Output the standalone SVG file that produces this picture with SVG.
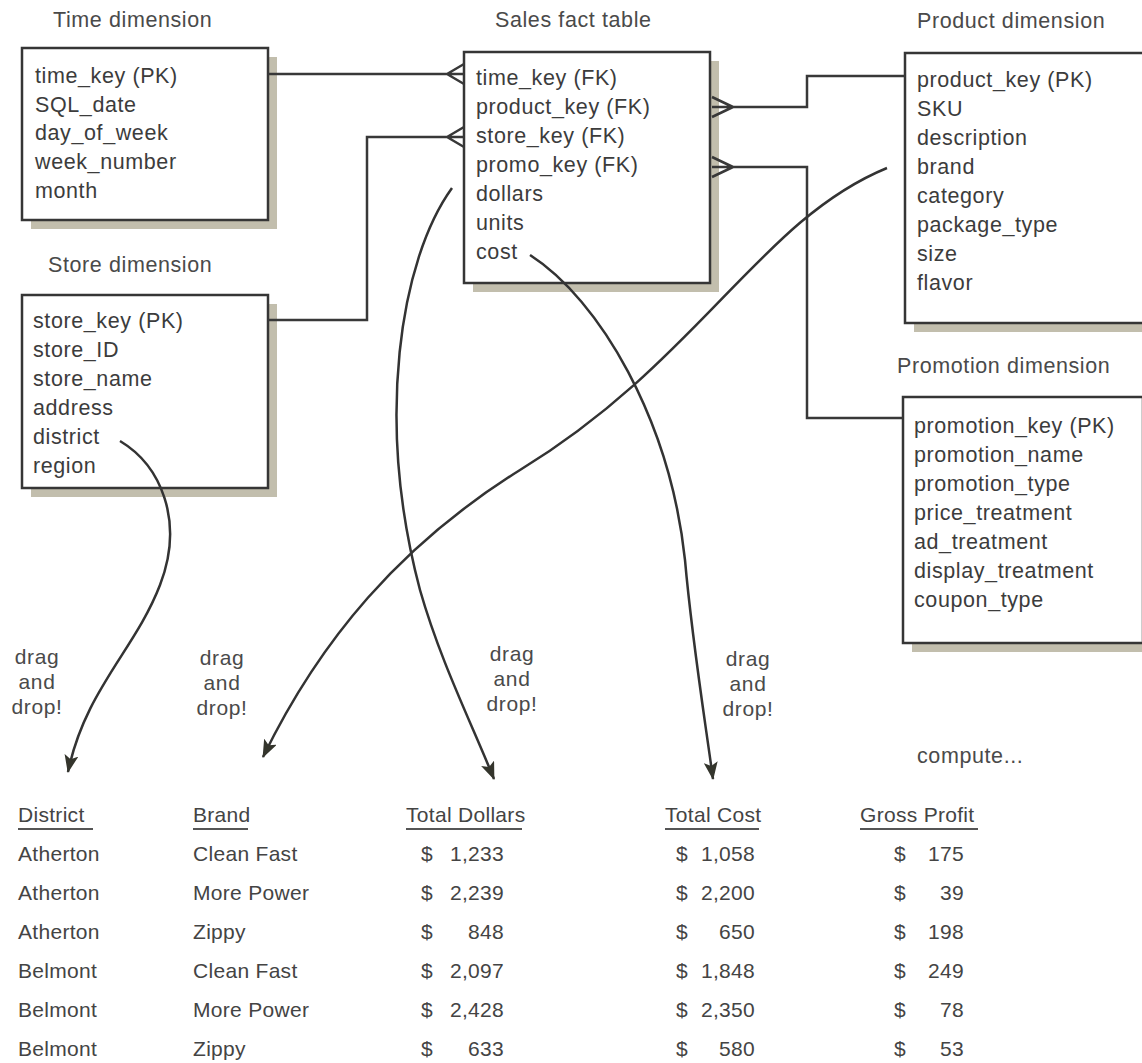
<svg xmlns="http://www.w3.org/2000/svg" width="1142" height="1063" viewBox="0 0 1142 1063">
<defs>
<style>
.bg{fill:#fff}
.box{fill:#fff;stroke:#363636;stroke-width:2.5}
.shadow{fill:#c2bead}
.t{font-family:"Liberation Sans",Arial,sans-serif;font-size:21.5px;fill:#3c3c3c;letter-spacing:0.6px}
.title{font-family:"Liberation Sans",Arial,sans-serif;font-size:21.5px;fill:#4a4a4a;letter-spacing:0.6px}
.lbl{font-family:"Liberation Sans",Arial,sans-serif;font-size:21px;fill:#4a4a4a;letter-spacing:0.6px;text-anchor:middle}
.tab{font-family:"Liberation Sans",Arial,sans-serif;font-size:21px;fill:#444;letter-spacing:0.3px}
.num{text-anchor:end}
.conn{fill:none;stroke:#383838;stroke-width:2.5}
.curve{fill:none;stroke:#333;stroke-width:2.5}
.ul{stroke:#555;stroke-width:1.8}
</style>
<marker id="ah" viewBox="0 0 18 14" refX="17" refY="7" markerWidth="18" markerHeight="14" markerUnits="userSpaceOnUse" orient="auto">
<path d="M0,0 L18,7 L0,14 L4,7 Z" fill="#34352c"/>
</marker>
</defs>
<rect class="bg" x="0" y="0" width="1142" height="1063"/>

<g id="time-dimension">
<text class="title" x="53" y="27">Time dimension</text>
<rect class="shadow" x="31" y="57" width="246" height="172"/>
<rect class="box" x="22" y="48" width="246" height="172"/>
<text class="t" x="35" y="83">time_key (PK)</text>
<text class="t" x="35" y="112">SQL_date</text>
<text class="t" x="35" y="140">day_of_week</text>
<text class="t" x="35" y="169">week_number</text>
<text class="t" x="35" y="198">month</text>
</g>

<g id="store-dimension">
<text class="title" x="48" y="272">Store dimension</text>
<rect class="shadow" x="31" y="304" width="246" height="193"/>
<rect class="box" x="22" y="295" width="246" height="193"/>
<text class="t" x="33" y="328">store_key (PK)</text>
<text class="t" x="33" y="357">store_ID</text>
<text class="t" x="33" y="386">store_name</text>
<text class="t" x="33" y="415">address</text>
<text class="t" x="33" y="444">district</text>
<text class="t" x="33" y="473">region</text>
</g>

<g id="sales-fact-table">
<text class="title" x="495" y="27">Sales fact table</text>
<rect class="shadow" x="473" y="61" width="246" height="231"/>
<rect class="box" x="464" y="52" width="246" height="231"/>
<text class="t" x="476" y="85">time_key (FK)</text>
<text class="t" x="476" y="114">product_key (FK)</text>
<text class="t" x="476" y="143">store_key (FK)</text>
<text class="t" x="476" y="172">promo_key (FK)</text>
<text class="t" x="476" y="201">dollars</text>
<text class="t" x="476" y="230">units</text>
<text class="t" x="476" y="259">cost</text>
</g>

<g id="product-dimension">
<text class="title" x="917" y="28">Product dimension</text>
<rect class="shadow" x="914" y="62" width="240" height="270"/>
<rect class="box" x="905" y="53" width="240" height="270"/>
<text class="t" x="917" y="87">product_key (PK)</text>
<text class="t" x="917" y="116">SKU</text>
<text class="t" x="917" y="145">description</text>
<text class="t" x="917" y="174">brand</text>
<text class="t" x="917" y="203">category</text>
<text class="t" x="917" y="232">package_type</text>
<text class="t" x="917" y="261">size</text>
<text class="t" x="917" y="290">flavor</text>
</g>

<g id="promotion-dimension">
<text class="title" x="897" y="373">Promotion dimension</text>
<rect class="shadow" x="912" y="406" width="240" height="246"/>
<rect class="box" x="903" y="397" width="240" height="246"/>
<text class="t" x="914" y="433">promotion_key (PK)</text>
<text class="t" x="914" y="462">promotion_name</text>
<text class="t" x="914" y="491">promotion_type</text>
<text class="t" x="914" y="520">price_treatment</text>
<text class="t" x="914" y="549">ad_treatment</text>
<text class="t" x="914" y="578">display_treatment</text>
<text class="t" x="914" y="607">coupon_type</text>
</g>

<g id="connectors">
<path class="conn" d="M268,74 H447 M447,74 L464,64 M447,74 L464,74 M447,74 L464,84"/>
<path class="conn" d="M268,320 H367 V137 H447 M447,137 L464,127 M447,137 L464,137 M447,137 L464,147"/>
<path class="conn" d="M905,76 H807 V107 H733 M733,107 L712,97 M733,107 L712,107 M733,107 L712,117"/>
<path class="conn" d="M903,418 H807 V167 H733 M733,167 L712,157 M733,167 L712,167 M733,167 L712,177"/>
<path class="curve" marker-end="url(#ah)" d="M120,441 C160,465 185,520 160,585 C135,650 85,690 68,772"/>
<path class="curve" marker-end="url(#ah)" d="M887,168 C760,220 700,360 520,470 C400,545 320,640 263,757"/>
<path class="curve" marker-end="url(#ah)" d="M452,188 C400,260 375,420 420,590 C440,660 470,720 494,779"/>
<path class="curve" marker-end="url(#ah)" d="M530,255 C600,300 670,420 685,560 C692,640 705,720 713,779"/>
</g>

<g id="drag-labels">
<text class="lbl" x="37" y="664">drag</text>
<text class="lbl" x="37" y="689">and</text>
<text class="lbl" x="37" y="714">drop!</text>
<text class="lbl" x="222" y="665">drag</text>
<text class="lbl" x="222" y="690">and</text>
<text class="lbl" x="222" y="715">drop!</text>
<text class="lbl" x="512" y="661">drag</text>
<text class="lbl" x="512" y="686">and</text>
<text class="lbl" x="512" y="711">drop!</text>
<text class="lbl" x="748" y="666">drag</text>
<text class="lbl" x="748" y="691">and</text>
<text class="lbl" x="748" y="716">drop!</text>
<text class="title" x="917" y="763">compute...</text>
</g>

<g id="result-table">
<text class="tab" x="18" y="822">District</text>
<line class="ul" x1="18" y1="829" x2="93" y2="829"/>
<text class="tab" x="193" y="822">Brand</text>
<line class="ul" x1="193" y1="829" x2="248" y2="829"/>
<text class="tab" x="406" y="822">Total Dollars</text>
<line class="ul" x1="406" y1="829" x2="522" y2="829"/>
<text class="tab" x="665" y="822">Total Cost</text>
<line class="ul" x1="665" y1="829" x2="759" y2="829"/>
<text class="tab" x="860" y="822">Gross Profit</text>
<line class="ul" x1="860" y1="829" x2="978" y2="829"/>

<text class="tab" x="18" y="861">Atherton</text>
<text class="tab" x="18" y="900">Atherton</text>
<text class="tab" x="18" y="939">Atherton</text>
<text class="tab" x="18" y="978">Belmont</text>
<text class="tab" x="18" y="1017">Belmont</text>
<text class="tab" x="18" y="1056">Belmont</text>

<text class="tab" x="193" y="861">Clean Fast</text>
<text class="tab" x="193" y="900">More Power</text>
<text class="tab" x="193" y="939">Zippy</text>
<text class="tab" x="193" y="978">Clean Fast</text>
<text class="tab" x="193" y="1017">More Power</text>
<text class="tab" x="193" y="1056">Zippy</text>

<text class="tab" x="421" y="861">$</text><text class="tab num" x="504" y="861">1,233</text>
<text class="tab" x="421" y="900">$</text><text class="tab num" x="504" y="900">2,239</text>
<text class="tab" x="421" y="939">$</text><text class="tab num" x="504" y="939">848</text>
<text class="tab" x="421" y="978">$</text><text class="tab num" x="504" y="978">2,097</text>
<text class="tab" x="421" y="1017">$</text><text class="tab num" x="504" y="1017">2,428</text>
<text class="tab" x="421" y="1056">$</text><text class="tab num" x="504" y="1056">633</text>

<text class="tab" x="676" y="861">$</text><text class="tab num" x="755" y="861">1,058</text>
<text class="tab" x="676" y="900">$</text><text class="tab num" x="755" y="900">2,200</text>
<text class="tab" x="676" y="939">$</text><text class="tab num" x="755" y="939">650</text>
<text class="tab" x="676" y="978">$</text><text class="tab num" x="755" y="978">1,848</text>
<text class="tab" x="676" y="1017">$</text><text class="tab num" x="755" y="1017">2,350</text>
<text class="tab" x="676" y="1056">$</text><text class="tab num" x="755" y="1056">580</text>

<text class="tab" x="894" y="861">$</text><text class="tab num" x="964" y="861">175</text>
<text class="tab" x="894" y="900">$</text><text class="tab num" x="964" y="900">39</text>
<text class="tab" x="894" y="939">$</text><text class="tab num" x="964" y="939">198</text>
<text class="tab" x="894" y="978">$</text><text class="tab num" x="964" y="978">249</text>
<text class="tab" x="894" y="1017">$</text><text class="tab num" x="964" y="1017">78</text>
<text class="tab" x="894" y="1056">$</text><text class="tab num" x="964" y="1056">53</text>
</g>
</svg>
